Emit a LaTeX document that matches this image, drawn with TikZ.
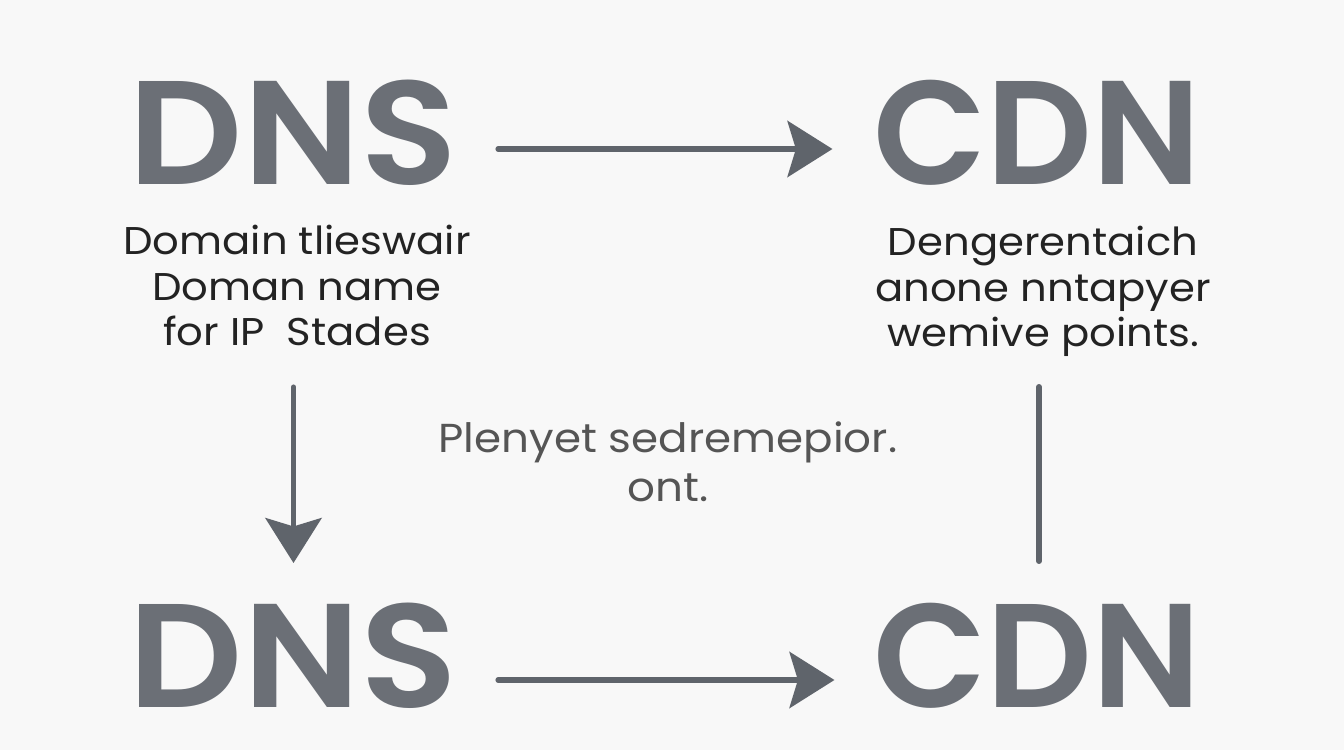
\documentclass[tikz,border=0pt]{standalone}
\usepackage{fontspec}
\setmainfont{Poppins}
\newfontfamily\widefont{Poppins}[FakeStretch=1.08,BoldFont={* SemiBold}]
\newfontfamily\bigfont{Poppins}[BoldFont={* SemiBold}]
\usetikzlibrary{arrows.meta}

\definecolor{bggray}{HTML}{F8F8F8}
\definecolor{letgray}{HTML}{6B6F76}
\definecolor{linegray}{HTML}{5F646B}
\definecolor{txtdark}{HTML}{232323}
\definecolor{txtgray}{HTML}{555555}

\begin{document}
\begin{tikzpicture}[
    scale=1,
    bigword/.style={inner sep=0pt,anchor=base,text depth=0pt,text=letgray,font=\widefont\fontsize{42}{42}\selectfont\bfseries},
    bigcdn/.style={bigword,font=\bigfont\fontsize{42}{42}\selectfont\bfseries},
    desc/.style={inner sep=0pt,anchor=base,align=center,text=txtdark,font=\widefont\fontsize{11}{13}\selectfont},
    note/.style={inner sep=0pt,anchor=base,align=center,text=txtgray,font=\widefont\fontsize{11.5}{14.2}\selectfont},
    arrowline/.style={linegray,line width=1.45pt,line cap=round,-{Stealth[length=12.8pt,width=16pt,inset=2.4pt]}},
    plainline/.style={linegray,line width=1.7pt,line cap=round}
    ]

    \useasboundingbox[fill=bggray] (0,0) rectangle (13.44,7.5);

    % top row
    \node[bigword] (dnsTop) at (2.93,5.65) {DNS};
    \node[bigcdn] (cdnTop) at (10.37,5.65) {CDN};

    % base of a multi-line node = its last line
    \node[desc] (descL) at (2.97,4.04) {Domain tlieswair\\Doman name\\for IP\ \ Stades};
    \node[desc] (descR) at (10.43,4.03) {Dengerentaich\\anone nntapyer\\wemive points.};

    % middle
    \node[note] (mid) at (6.68,2.48) {Plenyet sedremepior.\\ont.};

    % bottom row
    \node[bigword] (dnsBot) at (2.93,0.42) {DNS};
    \node[bigcdn] (cdnBot) at (10.37,0.42) {CDN};

    \draw[arrowline] ([xshift=0.4cm,yshift=0.36cm]dnsTop.base east) -- ([xshift=-0.4cm,yshift=0.36cm]cdnTop.base west);
    \draw[arrowline] ([xshift=0.4cm,yshift=0.28cm]dnsBot.base east) -- ([xshift=-0.38cm,yshift=0.28cm]cdnBot.base west);

    \draw[arrowline] ([xshift=0.005cm,yshift=-2.02cm]dnsTop.base) -- ([xshift=0.005cm,yshift=1.45cm]dnsBot.base);
    \draw[plainline] ([xshift=0.02cm,yshift=-2.02cm]cdnTop.base) -- ([xshift=0.02cm,yshift=1.47cm]cdnBot.base);

\end{tikzpicture}
\end{document}
